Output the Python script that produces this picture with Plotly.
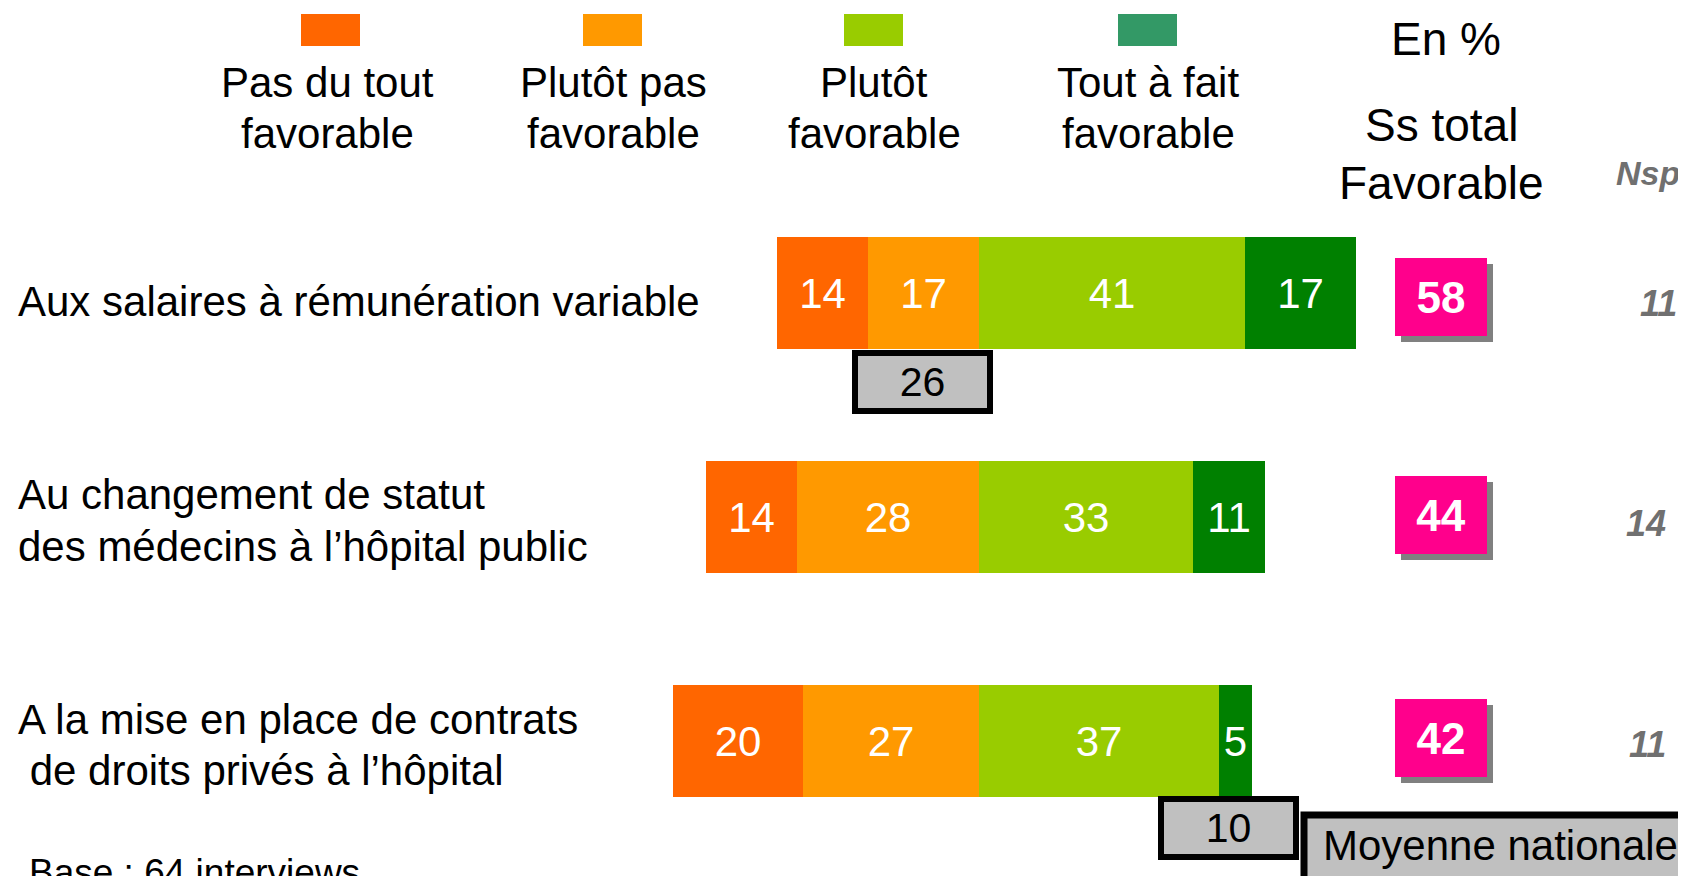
import plotly.graph_objects as go

# ---------------- data ----------------
row_labels = [
    ["Aux salaires à rémunération variable"],
    ["Au changement de statut", "des médecins à l’hôpital public"],
    ["A la mise en place de contrats", "\u00a0de droits privés à l’hôpital"],
]
series_names = ["Pas du tout favorable", "Plutôt pas favorable", "Plutôt favorable", "Tout à fait favorable"]
legend_lines = [["Pas du tout", "favorable"], ["Plutôt pas", "favorable"], ["Plutôt", "favorable"], ["Tout à fait", "favorable"]]
pas_du_tout = [14, 14, 20]
plutot_pas = [17, 28, 27]
plutot = [41, 33, 37]
tout_a_fait = [17, 11, 5]
total_favorable = [58, 44, 42]
nsp = [11, 14, 11]
moyenne_nationale = [26, None, 10]

bar_colors = ["#FF6600", "#FF9900", "#99CC00", "#008000"]
legend_colors = ["#FF6600", "#FF9900", "#99CC00", "#339966"]

# page has an 8px body margin: the figure starts at screen (8, 8)
OFF = 8
W, H = 1686 - OFF, 876 - OFF
FONT = "Liberation Sans, Arial, sans-serif"
rows = list(range(len(row_labels)))

def px(x):
    return (x - OFF) / W

def py(y):
    return 1 - (y - OFF) / H

fig = go.Figure()

def add_bar(vals, color, name, sign):
    fig.add_trace(go.Bar(
        y=rows, x=[sign * v for v in vals], orientation="h", name=name,
        marker=dict(color=color, line=dict(width=0)),
        width=0.5, text=[str(v) for v in vals], texttemplate="%{text}",
        textposition="inside", insidetextanchor="middle", constraintext="none",
        textangle=0,
        textfont=dict(color="white", size=42, family=FONT),
        hoverinfo="skip", showlegend=False,
    ))

add_bar(plutot_pas, bar_colors[1], series_names[1], -1)
add_bar(pas_du_tout, bar_colors[0], series_names[0], -1)
add_bar(plutot, bar_colors[2], series_names[2], 1)
add_bar(tout_a_fait, bar_colors[3], series_names[3], 1)

zero_px = 978.5 - OFF
unit = 6.5
y0_px, step = 293.0 - OFF, 224.0

fig.update_layout(
    width=W, height=H,
    margin=dict(l=0, r=0, t=0, b=0),
    paper_bgcolor="white", plot_bgcolor="white",
    barmode="relative", bargap=0,
    xaxis=dict(range=[-zero_px / unit, (W - zero_px) / unit], visible=False, fixedrange=True),
    yaxis=dict(range=[(H - y0_px) / step, -y0_px / step], visible=False, fixedrange=True),
    showlegend=False,
    font=dict(family=FONT, color="black"),
)

ann = []
shapes = []

# legend squares + labels
sq_x = [301, 583, 844, 1118]
lab_cx = [327, 613, 874, 1148]
for i in range(4):
    shapes.append(dict(type="rect", xref="paper", yref="paper",
                       x0=px(sq_x[i]), x1=px(sq_x[i] + 59), y0=py(46), y1=py(14),
                       fillcolor=legend_colors[i], line=dict(width=0)))
    for j, line in enumerate(legend_lines[i]):
        ann.append(dict(xref="paper", yref="paper", x=px(lab_cx[i]), y=py([83, 134][j]),
                        text=line, showarrow=False, xanchor="center", yanchor="middle",
                        font=dict(size=42, family=FONT, color="black")))

# header texts
ann.append(dict(xref="paper", yref="paper", x=px(1446), y=py(39), text="En %", showarrow=False,
                xanchor="center", yanchor="middle", font=dict(size=46, family=FONT)))
ann.append(dict(xref="paper", yref="paper", x=px(1441), y=py(125), text="Ss total", showarrow=False,
                xanchor="center", yanchor="middle", font=dict(size=46, family=FONT)))
ann.append(dict(xref="paper", yref="paper", x=px(1441), y=py(183), text="Favorable", showarrow=False,
                xanchor="center", yanchor="middle", font=dict(size=46, family=FONT)))
ann.append(dict(xref="paper", yref="paper", x=px(1648), y=py(173), text="<b><i>Nsp</i></b>", showarrow=False,
                xanchor="center", yanchor="middle", font=dict(size=34, family=FONT, color="#707070")))

# row labels
label_y = [[302], [494.6, 546], [719, 770]]
for i, lines in enumerate(row_labels):
    for j, line in enumerate(lines):
        ann.append(dict(xref="paper", yref="paper", x=px(16), y=py(label_y[i][j]), text=line,
                        showarrow=False, xanchor="left", yanchor="middle",
                        font=dict(size=42, family=FONT, color="black")))

# total favorable pink boxes with shadow
box_shift = [4, -2, -3]
for i, v in enumerate(total_favorable):
    ann.append(dict(xref="paper", yref="y", x=px(1441 + 6), y=rows[i], yshift=-box_shift[i] - 6,
                    text="", showarrow=False, xanchor="center", yanchor="middle",
                    width=92, height=78, bgcolor="#808080", borderpad=0, borderwidth=0))
    ann.append(dict(xref="paper", yref="y", x=px(1441), y=rows[i], yshift=-box_shift[i],
                    text=f"<b>{v}</b>", showarrow=False, xanchor="center", yanchor="middle",
                    width=92, height=78, bgcolor="#FF008C", borderpad=0, borderwidth=0,
                    font=dict(size=44, family=FONT, color="white")))

# nsp values
nsp_x = [1658, 1646, 1647]
nsp_shift = [10, 6, 3]
for i, v in enumerate(nsp):
    ann.append(dict(xref="paper", yref="y", x=px(nsp_x[i]), y=rows[i], yshift=-nsp_shift[i],
                    text=f"<b><i>{v}</i></b>", showarrow=False, xanchor="center", yanchor="middle",
                    font=dict(size=36, family=FONT, color="#707070")))

# national average boxes
avg_x = [922, 1228]
avg_shift = [89, 87]
k = 0
for i, v in enumerate(moyenne_nationale):
    if v is None:
        continue
    ann.append(dict(xref="paper", yref="y", x=px(avg_x[k]), y=rows[i], yshift=-avg_shift[k],
                    text=str(v), showarrow=False, xanchor="center", yanchor="middle",
                    width=129, height=52, bgcolor="#C0C0C0", bordercolor="black",
                    borderwidth=6, borderpad=0,
                    font=dict(size=41, family=FONT, color="black")))
    k += 1

# Moyenne nationale legend box
shapes.append(dict(type="rect", xref="paper", yref="paper",
                   x0=px(1304), x1=px(1700), y0=py(890), y1=py(815),
                   fillcolor="#C0C0C0", line=dict(color="black", width=7)))
ann.append(dict(xref="paper", yref="paper", x=px(1321), y=py(845), text="Moyenne nationale",
                showarrow=False, xanchor="left", yanchor="middle",
                font=dict(size=42, family=FONT, color="black")))

# base
ann.append(dict(xref="paper", yref="paper", x=px(27), y=py(850), text="Base : 64 interviews",
                showarrow=False, xanchor="left", yanchor="top",
                font=dict(size=37, family=FONT, color="black")))

fig.update_layout(annotations=ann, shapes=shapes)
fig.write_html("out.html")
